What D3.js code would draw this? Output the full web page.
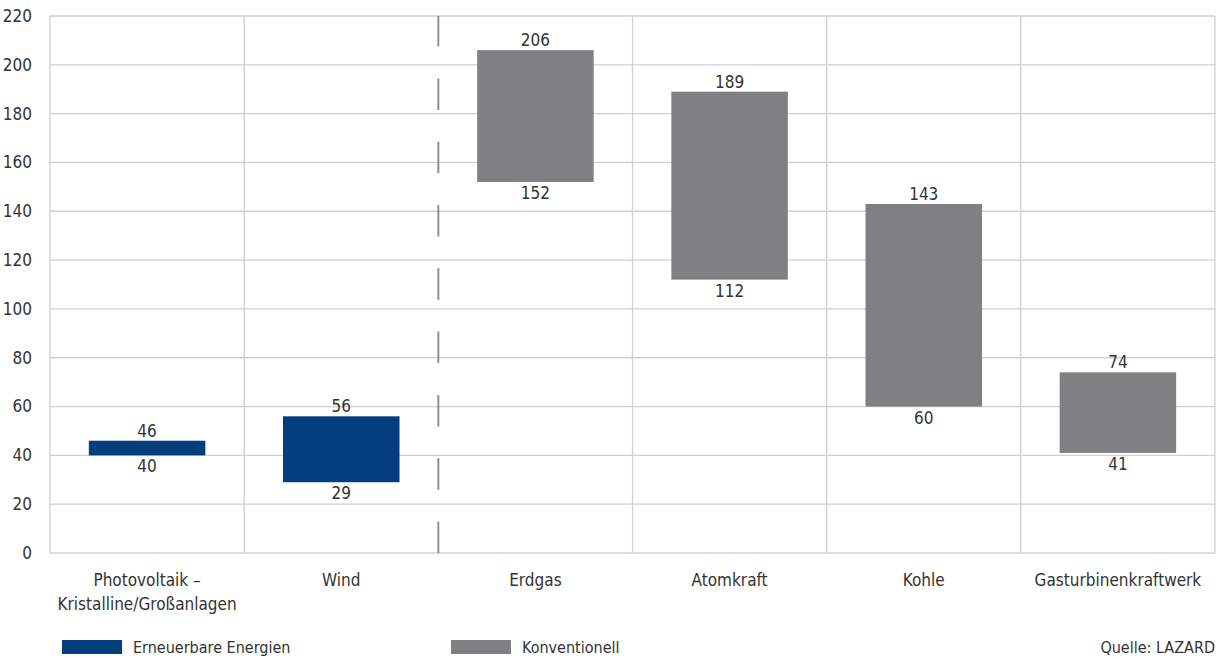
<!DOCTYPE html>
<html>
<head>
<meta charset="utf-8">
<script src="https://cdn.jsdelivr.net/npm/d3@7"></script>
<style>
  html, body { margin: 0; padding: 0; background: #fff; }
  svg text { font-family: "Liberation Sans Narrow", "DejaVu Sans Condensed", "Roboto", sans-serif; fill: #333; }
</style>
</head>
<body>
<svg id="chart" width="1221" height="659"></svg>
<script>
// Stromgestehungskosten: Bandbreite je Technologie (min / max)
const categories = ["Photovoltaik –|Kristalline/Großanlagen", "Wind", "Erdgas", "Atomkraft", "Kohle", "Gasturbinenkraftwerk"];
const lowValues  = [40, 29, 152, 112, 60, 41];
const highValues = [46, 56, 206, 189, 143, 74];
const groups     = ["Erneuerbare Energien", "Erneuerbare Energien", "Konventionell", "Konventionell", "Konventionell", "Konventionell"];
const groupNames = ["Erneuerbare Energien", "Konventionell"];
const yTicks     = [0, 20, 40, 60, 80, 100, 120, 140, 160, 180, 200, 220];
const sourceText = "Quelle: LAZARD";

const rows = categories.map((c, i) => ({ cat: c, low: lowValues[i], high: highValues[i], group: groups[i] }));

const svg = d3.select("#chart");
const margin = { left: 50, right: 6, top: 16, bottom: 106 };
const W = 1221, H = 659;

const x = d3.scaleBand().domain(categories).range([margin.left, W - margin.right]).padding(0);
const y = d3.scaleLinear().domain([0, 220]).range([H - margin.bottom, margin.top]);
const color = d3.scaleOrdinal().domain(groupNames).range(["#023e7e", "#808083"]);

const grid = svg.append("g");
// horizontal gridlines
grid.selectAll("line.h").data(yTicks).join("line")
  .attr("x1", margin.left).attr("x2", W - margin.right)
  .attr("y1", d => y(d)).attr("y2", d => y(d))
  .attr("stroke", "#d0d0d3").attr("stroke-width", 1.3);

// vertical column separators (the one between groups is drawn dashed)
const splitIndex = groups.indexOf("Konventionell");
const edges = categories.map(c => x(c)).concat([x(categories[categories.length - 1]) + x.bandwidth()]);
grid.selectAll("line.v").data(edges.filter((d, i) => i !== splitIndex)).join("line")
  .attr("x1", d => d).attr("x2", d => d)
  .attr("y1", y(220)).attr("y2", y(0))
  .attr("stroke", "#d0d0d3").attr("stroke-width", 1.3);

// dashed divider, drawn upward from the baseline
grid.append("line")
  .attr("x1", edges[splitIndex]).attr("x2", edges[splitIndex])
  .attr("y1", y(0)).attr("y2", y(220))
  .attr("stroke", "#909093").attr("stroke-width", 2)
  .attr("stroke-dasharray", "31.5,31.8");

// y axis labels
const yAxis = d3.axisLeft(y).tickValues(yTicks).tickSize(0).tickPadding(18);
svg.append("g").attr("transform", `translate(${margin.left},0)`).call(yAxis)
  .call(g => g.select(".domain").remove())
  .selectAll("text").attr("font-size", 17).style("fill", "#333");

// floating range bars
const barW = x.bandwidth() * 0.6;
const bars = svg.append("g");
bars.selectAll("rect").data(rows).join("rect")
  .attr("x", d => x(d.cat) + (x.bandwidth() - barW) / 2)
  .attr("width", barW)
  .attr("y", d => y(d.high))
  .attr("height", d => y(d.low) - y(d.high))
  .attr("fill", d => color(d.group));

// value labels above / below each bar
bars.selectAll("text.hi").data(rows).join("text")
  .attr("x", d => x(d.cat) + x.bandwidth() / 2)
  .attr("y", d => y(d.high) - 4)
  .attr("text-anchor", "middle").attr("font-size", 17)
  .text(d => d.high);
bars.selectAll("text.lo").data(rows).join("text")
  .attr("x", d => x(d.cat) + x.bandwidth() / 2)
  .attr("y", d => y(d.low) + 17)
  .attr("text-anchor", "middle").attr("font-size", 17)
  .text(d => d.low);

// category labels
const xl = svg.append("g");
xl.selectAll("text").data(categories).join("text")
  .attr("x", d => x(d) + x.bandwidth() / 2)
  .attr("y", y(0) + 33)
  .attr("text-anchor", "middle").attr("font-size", 17)
  .each(function (d) {
    const parts = d.split("|");
    d3.select(this).selectAll("tspan").data(parts).join("tspan")
      .attr("x", x(d) + x.bandwidth() / 2)
      .attr("dy", (p, i) => i === 0 ? 0 : 24)
      .text(p => p);
  });

// legend
const legendX = [62, 451];
const legend = svg.append("g");
groupNames.forEach((g, i) => {
  legend.append("rect").attr("x", legendX[i]).attr("y", 640).attr("width", 60).attr("height", 14).attr("fill", color(g));
  legend.append("text").attr("x", legendX[i] + 71).attr("y", 653).attr("font-size", 16).text(g);
});
legend.append("text").attr("x", W - 6).attr("y", 653).attr("text-anchor", "end").attr("font-size", 16).text(sourceText);
</script>
</body>
</html>
